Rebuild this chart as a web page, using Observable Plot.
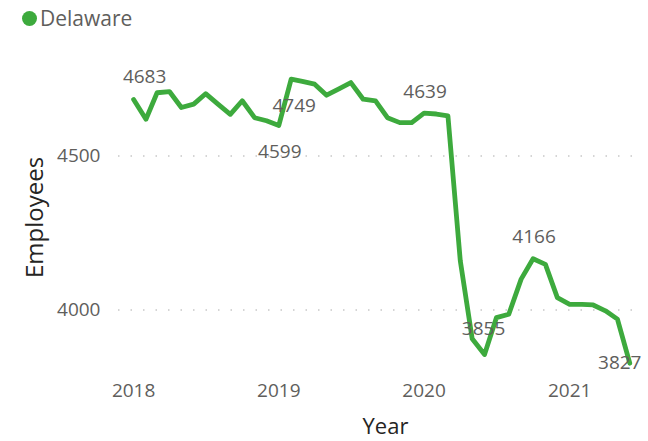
<!DOCTYPE html>
<html>
<head>
<meta charset="utf-8">
<script src="https://cdn.jsdelivr.net/npm/d3@7"></script>
<script src="https://cdn.jsdelivr.net/npm/@observablehq/plot@0.6"></script>
<style>
  html, body { margin: 0; padding: 0; background: #fff; }
  #legend { height: 36px; display: flex; align-items: center; font-family: 'Open Sans', sans-serif; font-size: 21px; color: #605E5C; }
  #legend .dot { width: 15px; height: 15px; border-radius: 50%; background: #3DAA3D; margin-left: 22px; margin-right: 3px; }
</style>
</head>
<body>
<div id="legend"><span class="dot"></span><span>Delaware</span></div>
<div id="chart"></div>
<script>
const series = "Delaware";
const months = [
  "2018-01","2018-02","2018-03","2018-04","2018-05","2018-06","2018-07","2018-08","2018-09","2018-10","2018-11","2018-12",
  "2019-01","2019-02","2019-03","2019-04","2019-05","2019-06","2019-07","2019-08","2019-09","2019-10","2019-11","2019-12",
  "2020-01","2020-02","2020-03","2020-04","2020-05","2020-06","2020-07","2020-08","2020-09","2020-10","2020-11","2020-12",
  "2021-01","2021-02","2021-03","2021-04","2021-05","2021-06"
];
const employees = [
  4683,4619,4705,4709,4657,4668,4702,4668,4635,4679,4624,4614,
  4599,4749,4742,4733,4697,4718,4738,4684,4679,4624,4608,4608,
  4639,4636,4630,4160,3906,3855,3975,3986,4100,4166,4148,4040,
  4018,4018,4016,3997,3970,3827
];
const labelledMonths = ["2018-01","2019-01","2019-02","2020-01","2020-06","2020-10","2021-06"];
const yTicks = [4000, 4500];
const xTicks = ["2018","2019","2020","2021"];

const parse = d3.utcParse("%Y-%m");
const data = months.map((m, i) => ({month: m, date: parse(m), value: employees[i]}));
const labelData = data.filter(d => labelledMonths.includes(d.month));

// label offsets (pixels) per labelled month
const offsets = {
  "2018-01": [11, -23], "2019-01": [1, 26], "2019-02": [3, 27], "2020-01": [1, -21],
  "2020-06": [-1, -26], "2020-10": [1, -22], "2021-06": [-10, 0]
};

const green = "#3DAA3D";
const chart = Plot.plot({
  width: 648,
  height: 405,
  marginLeft: 118,
  marginRight: 8,
  marginTop: 27,
  marginBottom: 70,
  style: {fontFamily: "'Open Sans', sans-serif", fontSize: "19px", color: "#605E5C", background: "#fff"},
  x: {type: "utc", domain: [new Date(Date.UTC(2017, 10, 24)), new Date(Date.UTC(2021, 5, 28))]},
  y: {domain: [3800, 4800]},
  marks: [
    Plot.ruleY(yTicks, {stroke: "#C8C8C8", strokeWidth: 1.5, strokeDasharray: "1.5,11"}),
    Plot.axisY({ticks: yTicks, tickFormat: d => String(d), tickSize: 0, tickPadding: 18, label: null, fontSize: 19}),
    Plot.axisX({ticks: xTicks.map(y => d3.utcParse("%Y")(y)), tickFormat: d3.utcFormat("%Y"), tickSize: 0, tickPadding: 12, label: null, fontSize: 19}),
    Plot.line(data, {x: "date", y: "value", stroke: green, strokeWidth: 4.8, strokeLinejoin: "round", strokeLinecap: "round"}),
    ...labelData.map(d => Plot.text([d], {x: "date", y: "value", text: d => String(d.value), dx: offsets[d.month][0], dy: offsets[d.month][1], fill: "#605E5C", fontSize: 19})),
    Plot.text(["Employees"], {frameAnchor: "left", rotate: -90, textAnchor: "middle", dx: -83, text: d => d, fill: "#252423", fontSize: 24}),
    Plot.text(["Year"], {frameAnchor: "bottom", dx: 6, dy: 62, text: d => d, fill: "#252423", fontSize: 22})
  ]
});
document.getElementById("chart").appendChild(chart);
</script>
</body>
</html>
